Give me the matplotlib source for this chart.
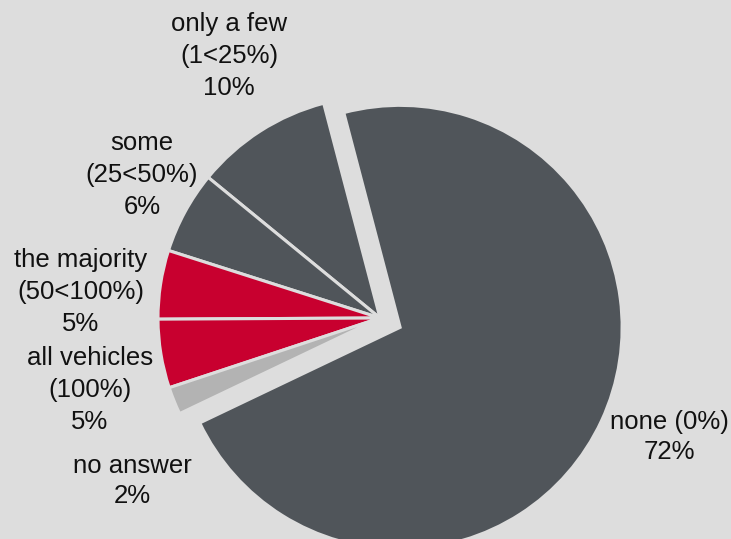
import matplotlib
matplotlib.use('Agg')
from matplotlib import pyplot as plt

# Share of vehicles, one value per answer (counterclockwise from "none")
categories = ['none (0%)', 'only a few\n(1<25%)', 'some\n(25<50%)',
              'the majority\n(50<100%)', 'all vehicles\n(100%)', 'no answer']
shares = [72, 10, 6, 5, 5, 2]
colors = ['#50555a', '#50555a', '#50555a', '#c8002f', '#c8002f', '#b3b3b3']
explode = [0.1, 0, 0, 0, 0, 0]

# label centres in pixels (x from left, y from top)
label_pos = [(669, 437), (229, 56), (142, 175), (81, 292), (90, 390), (132, 481)]
spacing = [1.3, 1.42, 1.42, 1.42, 1.42, 1.3]

bg = '#dddddd'
W, H = 731, 539
cx, cy, R = 380, 318, 222  # pie centre and radius in pixels

plt.rcParams['font.family'] = ['Liberation Sans', 'DejaVu Sans']

fig = plt.figure(figsize=(W / 100, H / 100), dpi=100, facecolor=bg)
ax = fig.add_axes([0, 0, 1, 1])
ax.set_facecolor(bg)

ax.pie(shares, colors=colors, explode=explode, startangle=205.5,
       counterclock=True, radius=1,
       wedgeprops=dict(edgecolor=bg, linewidth=2.2))

ax.set_xlim(-cx / R, (W - cx) / R)
ax.set_ylim(-(H - cy) / R, cy / R)
ax.set_aspect('auto')
ax.axis('off')

for cat, val, (px, py), ls in zip(categories, shares, label_pos, spacing):
    fig.text(px / W, 1 - py / H, f'{cat}\n{val}%', ha='center', va='center',
             fontsize=18.5, color='#111111', linespacing=ls)

fig.savefig('out.png', dpi=100, facecolor=bg)
